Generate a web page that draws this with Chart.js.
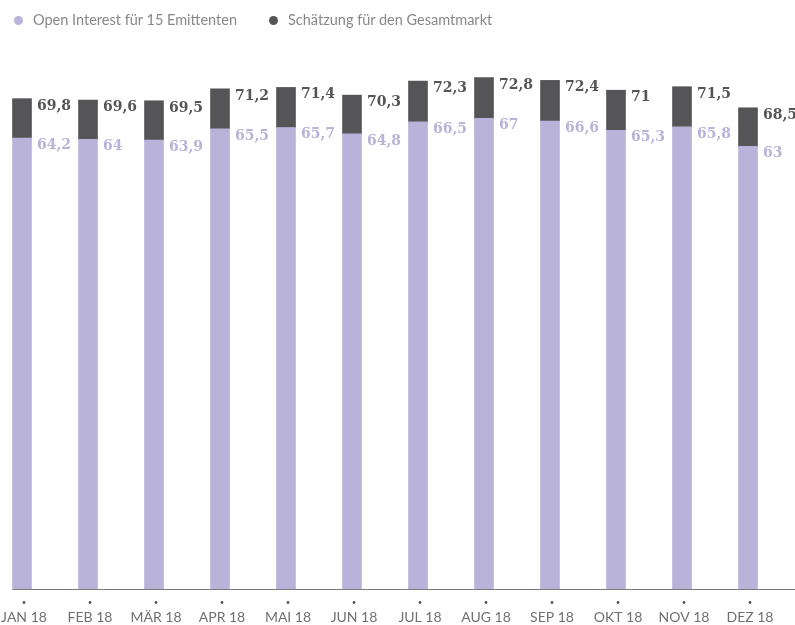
<!DOCTYPE html>
<html><head><meta charset="utf-8">
<script src="https://cdn.jsdelivr.net/npm/chart.js@4/dist/chart.umd.min.js"></script>
<style>
html,body{margin:0;padding:0;background:#fff;overflow:hidden;width:795px;height:625px;position:relative;}
#wrap{position:absolute;left:-11px;top:0;width:806px;height:625px;}
#legend{position:absolute;left:0;top:10px;height:20px;font-family:Lato,"Open Sans",sans-serif;font-size:14.5px;color:#888;}
.item{position:absolute;top:0;white-space:nowrap;line-height:20px;}
.dot{position:absolute;top:5.5px;width:9px;height:9px;border-radius:50%;}
</style></head>
<body>
<div id="wrap"><canvas id="c" width="806" height="625"></canvas></div>
<div id="legend"></div>
<script>
const categories = ['JAN 18','FEB 18','MÄR 18','APR 18','MAI 18','JUN 18','JUL 18','AUG 18','SEP 18','OKT 18','NOV 18','DEZ 18'];
const openInterest = [64.2, 64, 63.9, 65.5, 65.7, 64.8, 66.5, 67, 66.6, 65.3, 65.8, 63];
const totalMarket = [69.8, 69.6, 69.5, 71.2, 71.4, 70.3, 72.3, 72.8, 72.4, 71, 71.5, 68.5];
const seriesNames = ['Open Interest für 15 Emittenten', 'Schätzung für den Gesamtmarkt'];
const colors = ['#b9b3d9', '#555557'];

const remainder = totalMarket.map((t, i) => Math.round((t - openInterest[i]) * 10) / 10);
const fmt = v => String(v).replace('.', ',');

// HTML legend
const legend = document.getElementById('legend');
const legendPos = [{dot: 13.5, text: 33}, {dot: 268.5, text: 288}];
seriesNames.forEach((n, i) => {
  const d = document.createElement('div'); d.className = 'dot';
  d.style.left = legendPos[i].dot + 'px'; d.style.background = colors[i];
  legend.appendChild(d);
  const t = document.createElement('div'); t.className = 'item';
  t.style.left = legendPos[i].text + 'px'; t.textContent = n;
  legend.appendChild(t);
});

const decor = {
  id: 'decor',
  afterDatasetsDraw(chart) {
    const ctx = chart.ctx, xs = chart.scales.x, ca = chart.chartArea;
    const m0 = chart.getDatasetMeta(0), m1 = chart.getDatasetMeta(1);
    ctx.save();
    const fb = m0.data[0];
    ctx.strokeStyle = '#7a7a7a'; ctx.lineWidth = 1;
    ctx.beginPath();
    ctx.moveTo(fb.x - fb.width / 2, Math.round(ca.bottom) + 0.5);
    ctx.lineTo(chart.width, Math.round(ca.bottom) + 0.5);
    ctx.stroke();
    ctx.fillStyle = '#555';
    xs.ticks.forEach((t, i) => {
      const x = xs.getPixelForTick(i) + 2;
      ctx.beginPath(); ctx.arc(x, ca.bottom + 13.5, 1.4, 0, Math.PI * 2); ctx.fill();
    });
    ctx.font = 'bold 14px "DejaVu Serif"';
    ctx.textAlign = 'left'; ctx.textBaseline = 'alphabetic';
    m0.data.forEach((b, i) => {
      ctx.fillStyle = colors[0];
      ctx.fillText(fmt(openInterest[i]), b.x + b.width / 2 + 5.5, b.y + 11);
    });
    m1.data.forEach((b, i) => {
      ctx.fillStyle = colors[1];
      ctx.fillText(fmt(totalMarket[i]), b.x + b.width / 2 + 5.5, b.y + 11);
    });
    ctx.restore();
  }
};

new Chart(document.getElementById('c'), {
  type: 'bar',
  data: {
    labels: categories,
    datasets: [
      {label: seriesNames[0], data: openInterest, backgroundColor: colors[0], barThickness: 19, borderWidth: 0},
      {label: seriesNames[1], data: remainder, backgroundColor: colors[1], barThickness: 19, borderWidth: 0}
    ]
  },
  options: {
    responsive: false,
    animation: false,
    layout: {padding: {top: 27, right: 14, left: 0, bottom: 0}},
    plugins: {legend: {display: false}, tooltip: {enabled: false}},
    scales: {
      x: {
        stacked: true,
        grid: {display: false},
        border: {display: false},
        ticks: {color: '#707070', font: {family: 'Lato', size: 14}, padding: 12, labelOffset: 2, maxRotation: 0, autoSkip: false},
        afterFit: s => { s.height = 36; s.paddingLeft = 0; s.paddingRight = 0; }
      },
      y: {stacked: true, display: false, min: 0, max: 80}
    }
  },
  plugins: [decor]
});
</script>
</body></html>
